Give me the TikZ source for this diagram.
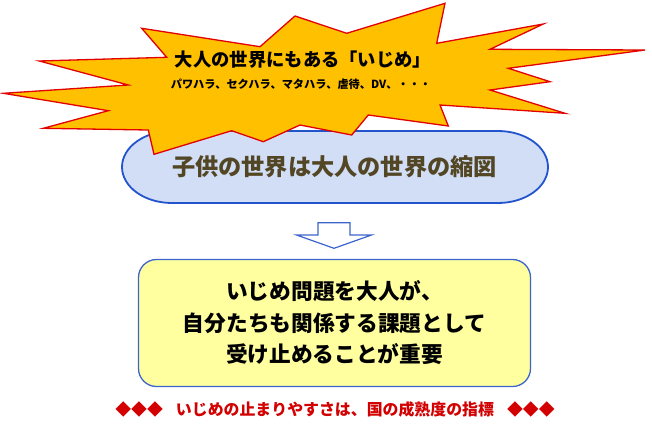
\documentclass[tikz,border=0pt]{standalone}
\usepackage{fontspec}
\setmainfont{Noto Sans CJK JP}
\usetikzlibrary{positioning}
\definecolor{starfill}{RGB}{255,192,0}
\definecolor{starline}{RGB}{226,0,0}
\definecolor{ovalfill}{RGB}{210,222,246}
\definecolor{ovalline}{RGB}{34,85,204}
\definecolor{ovaltext}{RGB}{82,70,36}
\definecolor{boxfill}{RGB}{255,255,160}
\definecolor{boxline}{RGB}{60,100,205}
\definecolor{notered}{RGB}{210,0,0}
\tikzset{
  burst/.style={
    draw=starline,
    fill=starfill,
    line width=1.3pt,
    line join=miter
  },
  oval/.style={
    draw=ovalline,
    fill=ovalfill,
    line width=1.8pt
  },
  taskbox/.style={
    draw=boxline,
    fill=boxfill,
    line width=1.3pt,
    rounded corners=18pt,
    minimum width=392pt,
    minimum height=127pt,
    align=center
  },
  downarrow/.style={
    draw=boxline,
    fill=white,
    line width=1.2pt,
    line join=miter
  },
  label text/.style={
    inner sep=0pt,
    font=\bfseries
  }
}
\begin{document}
\begin{tikzpicture}[x=1pt,y=-1pt]
  \useasboundingbox (0,0) rectangle (652,436);
  \draw[oval] (172,131) -- (498,131) arc[start angle=90,end angle=-90,x radius=50pt,y radius=36pt]
    -- (172,203) arc[start angle=270,end angle=90,x radius=50pt,y radius=36pt] -- cycle;
  \node[label text,text=ovaltext,font=\bfseries\fontsize{23.2}{23.2}\selectfont] (child) at (334.5,167) {子供の世界は大人の世界の縮図};
  \draw[burst] (141.7,28.3) -- (260,46.7) -- (295,16) -- (346.7,33.3) -- (445,3.3) -- (436.7,43.3)
    -- (543.3,24) -- (490,49.3) -- (645,50) -- (508.3,68.3) -- (550,81.7) -- (490,90)
    -- (565,113.3) -- (440,105) -- (448.3,126) -- (368.3,115) -- (351.7,135) -- (300,125)
    -- (263.3,141.7) -- (231.7,130.7) -- (154,154.3) -- (148.3,130) -- (43.3,128.3) -- (108.3,110.7)
    -- (3.3,93.3) -- (128.3,85) -- (39.3,61) -- (166.7,57.3) -- cycle;
  \node[label text,font=\bfseries\fontsize{18.3}{18.3}\selectfont] (adult) at (303,60) {大人の世界にもある「いじめ」};
  \node[label text,font=\bfseries\fontsize{11.2}{11.2}\selectfont] (harass) at (301,84) {パワハラ、セクハラ、マタハラ、虐待、DV、・・・};
  \draw[downarrow] (318,222.7) -- (350,222.7) -- (350,235) -- (371.5,235) -- (334,248.3)
    -- (296.5,235) -- (318,235) -- cycle;
  \node[taskbox,font=\bfseries\fontsize{21.7}{31.5}\selectfont] (task) at (334.5,323) {いじめ問題を大人が、\\自分たちも関係する課題として\\受け止めることが重要};
  \node[label text,text=notered,font=\bfseries\fontsize{15.9}{15.9}\selectfont] (note) at (335,409) {◆◆◆\hspace{13pt}いじめの止まりやすさは、国の成熟度の指標\hspace{13pt}◆◆◆};
\end{tikzpicture}
\end{document}
